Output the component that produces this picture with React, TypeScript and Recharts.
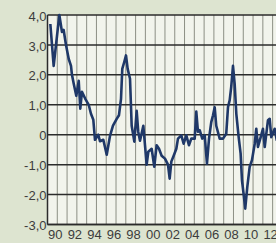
import React from "react";
import { LineChart, Line, XAxis, YAxis, CartesianGrid, ReferenceLine } from "recharts";

const years = [
  1989.29, 1989.63, 1990.21, 1990.48, 1990.65, 1990.89, 1991.17, 1991.4, 1991.5, 1991.68,
  1991.94, 1992.19, 1992.35, 1992.52, 1992.86, 1993.21, 1993.44, 1993.68, 1993.85, 1994.19,
  1994.36, 1994.7, 1995.05, 1995.38, 1995.69, 1996.07, 1996.3, 1996.51, 1996.64, 1996.84,
  1997.02, 1997.19, 1997.43, 1997.6, 1997.87, 1998.11, 1998.27, 1998.45, 1998.79, 1998.96,
  1999.13, 1999.3, 1999.64, 1999.91, 2000.15, 2000.39, 2000.66, 2001.0, 2001.31, 2001.48,
  2001.65, 2001.89, 2002.16, 2002.33, 2002.67, 2002.91, 2003.18, 2003.45, 2003.69, 2004.04,
  2004.2, 2004.37, 2004.55, 2004.81, 2005.06, 2005.29, 2005.5, 2005.73, 2005.91, 2006.08,
  2006.24, 2006.59, 2006.93, 2007.26, 2007.44, 2007.61, 2007.77, 2007.95, 2008.12, 2008.29,
  2008.53, 2008.73, 2008.87, 2009.07, 2009.2, 2009.41, 2009.65, 2009.89, 2010.17, 2010.33,
  2010.5, 2010.78, 2011.01, 2011.19, 2011.52, 2011.7, 2011.86, 2012.21, 2012.43,
];

const values = [
  3.7, 2.3, 4.0, 3.43, 3.5, 3.0, 2.53, 2.3, 2.0, 1.7,
  1.3, 1.8, 0.87, 1.43, 1.2, 1.0, 0.7, 0.5, -0.17, 0.0,
  -0.22, -0.17, -0.67, -0.05, 0.3, 0.53, 0.65, 1.2, 2.2, 2.43,
  2.65, 2.2, 1.87, 0.3, -0.23, 0.8, 0.1, -0.2, 0.3, -0.35,
  -1.0, -0.57, -0.47, -1.07, -0.35, -0.47, -0.7, -0.8, -1.0, -1.47,
  -0.9, -0.7, -0.47, -0.13, -0.02, -0.3, -0.02, -0.35, -0.13, -0.13,
  0.77, 0.1, 0.15, -0.13, -0.02, -0.97, -0.13, 0.42, 0.65, 0.92,
  0.3, -0.13, -0.13, 0.03, 0.92, 1.15, 1.6, 2.3, 1.7, 0.7,
  -0.08, -0.63, -1.53, -2.08, -2.47, -1.75, -1.08, -0.85, -0.3, 0.2,
  -0.41, -0.08, 0.2, -0.41, 0.48, 0.53, -0.08, 0.2, -0.2,
];

const xTicks = [
  1989, 1990, 1991, 1992, 1993, 1994, 1995, 1996, 1997, 1998, 1999, 2000, 2001,
  2002, 2003, 2004, 2005, 2006, 2007, 2008, 2009, 2010, 2011, 2012, 2013, 2014, 2015,
];
const labeledYears = [1990, 1992, 1994, 1996, 1998, 2000, 2002, 2004, 2006, 2008, 2010, 2012];
const yTicks = [-3, -2, -1, 0, 1, 2, 3, 4];

const data = years.map((t, i) => ({ t, v: values[i] }));

const fmtX = (y: number) =>
  labeledYears.includes(y) ? String(y % 100).padStart(2, "0") : "";
const fmtY = (v: number) => (v === 0 ? "0" : v.toFixed(1).replace(".", ","));

const tickStyle = {
  fill: "#3c3c3c",
  fontSize: 13,
  fontFamily: "Liberation Sans, Arial, sans-serif",
};

export default function App() {
  return (
    <div
      style={{
        position: "fixed",
        left: 0,
        top: 0,
        width: 276,
        height: 243,
        overflow: "hidden",
        background: "#dde4d0",
      }}
    >
      <LineChart
        width={302}
        height={243}
        data={data}
        margin={{ top: 15, right: 0, bottom: 0, left: 0 }}
      >
        <CartesianGrid
          horizontal={false}
          stroke="#8c8f84"
          strokeWidth={1}
          fill="#f2f4ec"
        />
        {yTicks.map((y) => (
          <ReferenceLine key={y} y={y} stroke="#2b2b2b" strokeWidth={1.5} />
        ))}
        <XAxis
          dataKey="t"
          type="number"
          domain={[1989, 2015]}
          ticks={xTicks}
          tickFormatter={fmtX}
          interval={0}
          height={18.5}
          tickLine={false}
          tickSize={0}
          tickMargin={5}
          axisLine={{ stroke: "#2b2b2b", strokeWidth: 1.5 }}
          tick={{ ...tickStyle, dx: -2 }}
        />
        <YAxis
          type="number"
          domain={[-3, 4]}
          ticks={yTicks}
          tickFormatter={fmtY}
          interval={0}
          width={47.5}
          tickLine={false}
          tickSize={0}
          tickMargin={1}
          axisLine={{ stroke: "#2b2b2b", strokeWidth: 1.5 }}
          tick={{ ...tickStyle, dy: 1 }}
        />
        <Line
          type="linear"
          dataKey="v"
          stroke="#1f3868"
          strokeWidth={2.6}
          dot={false}
          isAnimationActive={false}
          strokeLinejoin="round"
        />
      </LineChart>
    </div>
  );
}
